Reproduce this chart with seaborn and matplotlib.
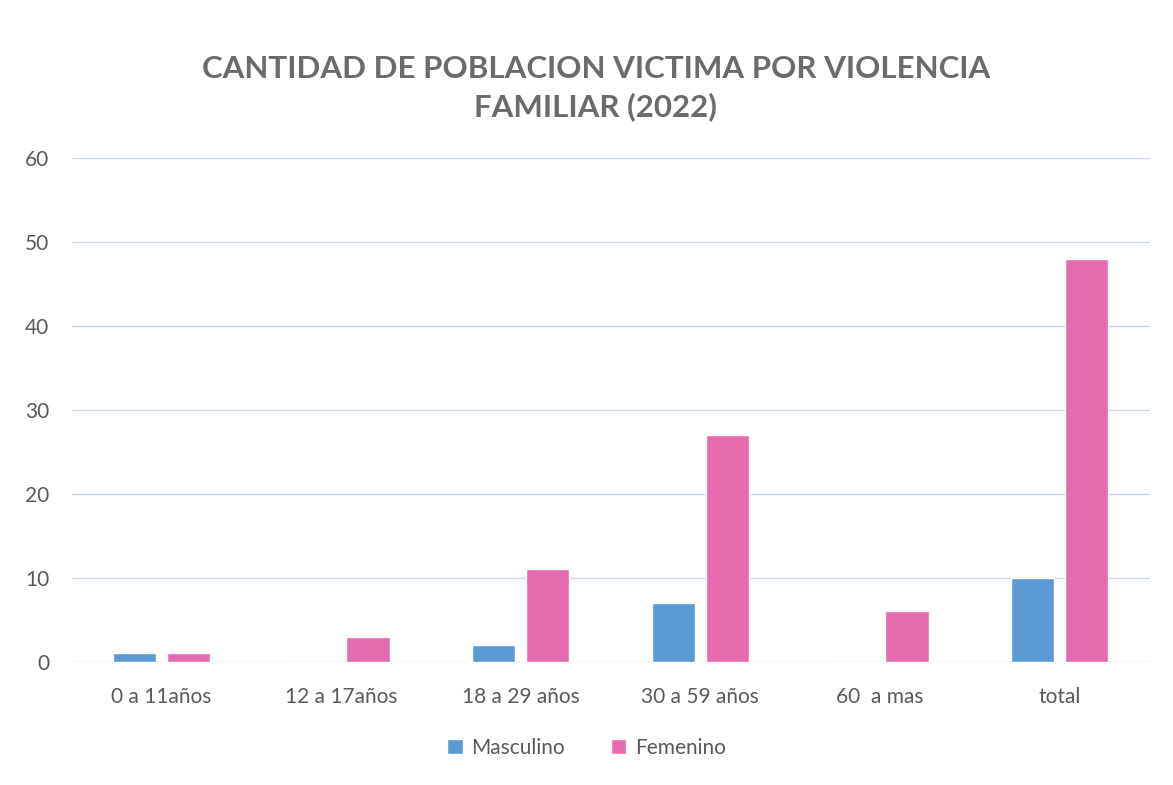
import matplotlib
matplotlib.use("Agg")
import matplotlib.pyplot as plt
import seaborn as sns
import pandas as pd
from matplotlib.patches import Patch

categories = ["0 a 11años", "12 a 17años", "18 a 29 años", "30 a 59 años", "60  a mas", "total"]
masculino = [1, 0, 2, 7, 0, 10]
femenino = [1, 3, 11, 27, 6, 48]
series_names = ["Masculino", "Femenino"]
colors = ["#5B9BD5", "#E56BAF"]
yticks = [0, 10, 20, 30, 40, 50, 60]

df = pd.DataFrame({
    "cat": categories * 2,
    "serie": [series_names[0]] * len(categories) + [series_names[1]] * len(categories),
    "val": masculino + femenino,
})

sns.set_theme(style="white")
plt.rcParams["font.family"] = ["Lato", "DejaVu Sans"]

fig = plt.figure(figsize=(11.73, 7.85), dpi=100)
ax = fig.add_axes([0.061, 0.157, 0.919, 0.642])

sns.barplot(data=df, x="cat", y="val", hue="serie", palette=colors,
            width=0.6, gap=0.2, ax=ax, legend=False, saturation=1)

ax.set_ylim(0, 60)
ax.set_yticks(yticks)
ax.set_yticklabels([str(t) for t in yticks], fontsize=15, color="#595959")
ax.tick_params(axis="x", labelsize=15, labelcolor="#595959", pad=18, length=0)
ax.tick_params(axis="y", length=0, pad=16)
ax.set_xlabel("")
ax.set_ylabel("")
ax.yaxis.grid(True, color="#CBD7EA", linewidth=1)
ax.set_axisbelow(True)
for s in ax.spines.values():
    s.set_visible(False)

fig.text(0.508, 0.888, "CANTIDAD DE POBLACION VICTIMA POR VIOLENCIA\nFAMILIAR (2022)",
         ha="center", va="center", fontsize=22.5, fontweight="bold", color="#6B6B6B",
         linespacing=1.4)

handles = [Patch(facecolor=c, label=n) for c, n in zip(colors, series_names)]
fig.legend(handles=handles, loc="center", bbox_to_anchor=(0.5, 0.047), ncol=2,
           frameon=False, fontsize=15, handlelength=0.75, handleheight=0.75,
           columnspacing=2.2, handletextpad=0.4, labelcolor="#595959")

fig.savefig("out.png", dpi=100, facecolor="white")
